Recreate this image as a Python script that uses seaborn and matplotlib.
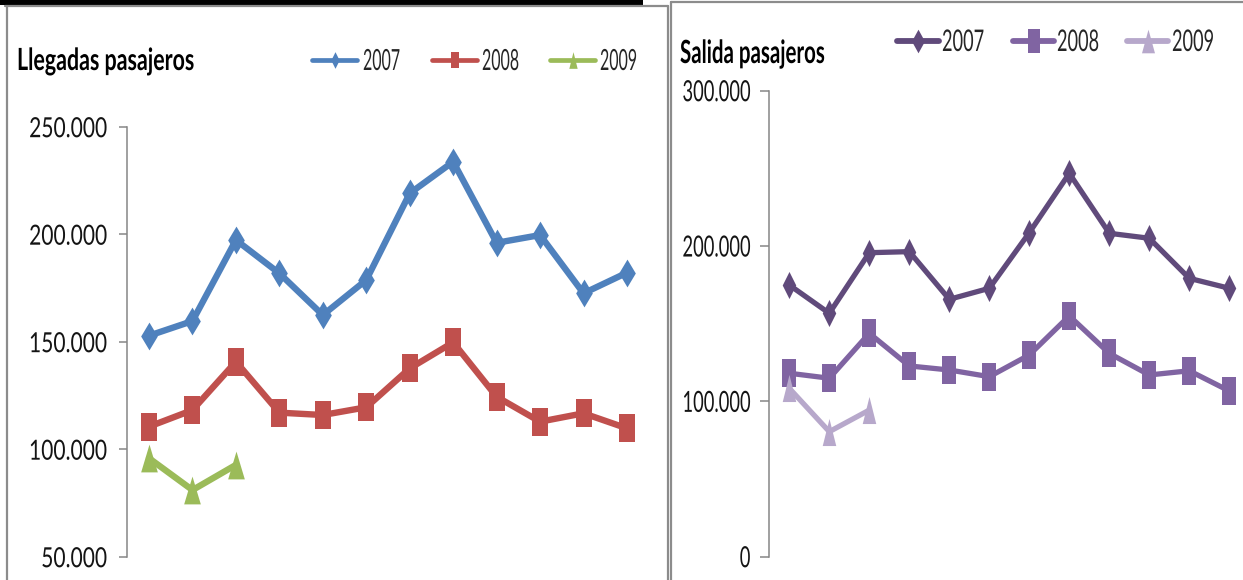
import matplotlib
matplotlib.use("Agg")
import matplotlib.pyplot as plt
from matplotlib.lines import Line2D
from matplotlib.patches import Rectangle
from matplotlib.ticker import FuncFormatter, FixedLocator
from matplotlib.patheffects import AbstractPathEffect
from matplotlib.transforms import Affine2D
import seaborn as sns
import pandas as pd

# ---------------- data ----------------
meses = ["Ene", "Feb", "Mar", "Abr", "May", "Jun", "Jul", "Ago", "Sep", "Oct", "Nov", "Dic"]
anios = ["2007", "2008", "2009"]

llegadas_2007 = [152800, 159600, 197300, 181800, 162400, 178700, 219000, 233700, 196000, 199600, 172500, 182100]
llegadas_2008 = [110500, 118200, 140700, 117000, 115900, 119500, 137600, 149700, 124400, 112800, 116700, 109700]
llegadas_2009 = [95800, 81000, 92700]

salidas_2007 = [174900, 156700, 195700, 196400, 165700, 172800, 208600, 246800, 208200, 205000, 179200, 172800]
salidas_2008 = [118100, 114900, 143800, 122800, 120200, 115900, 129900, 155000, 130900, 117000, 119700, 106700]
salidas_2009 = [108400, 80500, 94400]

ticks_llegadas = [50000, 100000, 150000, 200000, 250000]
ticks_salidas = [0, 100000, 200000, 300000]

titulo_llegadas = "Llegadas pasajeros"
titulo_salidas = "Salida pasajeros"

colores_llegadas = ["#4F81BD", "#C0504D", "#9BBB59"]
colores_salidas = ["#604A7B", "#8064A2", "#B7A8CB"]

# ---------------- style ----------------
sns.set_style("white")
plt.rcParams["font.family"] = ["Lato", "DejaVu Sans"]

W, H = 1243, 580
fig = plt.figure(figsize=(W / 100, H / 100), dpi=100)
fig.patch.set_facecolor("white")


def fx(x):
    return x / W


def fy(y):
    return 1 - y / H


def fmt(v, pos=None):
    return f"{int(round(v)):,}".replace(",", ".")


class Squeeze(AbstractPathEffect):
    """Horizontally condense rendered text (the reference uses a narrow face)."""

    def __init__(self, sx, anchor="left"):
        super().__init__()
        self.sx = sx
        self.anchor = anchor

    def draw_path(self, renderer, gc, tpath, affine, rgbFace=None):
        if len(tpath.vertices) == 0:
            renderer.draw_path(gc, tpath, affine, rgbFace)
            return
        xs = affine.transform(tpath.vertices)[:, 0]
        if self.anchor == "left":
            x0 = xs.min()
        elif self.anchor == "right":
            x0 = xs.max()
        else:
            x0 = 0.5 * (xs.min() + xs.max())
        t = affine + Affine2D().translate(-x0, 0).scale(self.sx, 1).translate(x0, 0)
        renderer.draw_path(gc, tpath, t, rgbFace)


def tall(kind, ratio):
    if kind == "D":
        return [(0, 1), (ratio, 0), (0, -1), (-ratio, 0)]
    if kind == "s":
        return [(-ratio, -1), (ratio, -1), (ratio, 1), (-ratio, 1)]
    return [(0, 1), (ratio, -1), (-ratio, -1)]


def build_df(series):
    rows = []
    for anio, vals in zip(anios, series):
        for m, v in zip(meses, vals):
            rows.append({"mes": m, "anio": anio, "valor": v})
    return pd.DataFrame(rows)


KINDS = ["D", "s", "^"]


def panel(ax, series, colors, ticks, lw, ms, ratio, fontsize, tlen, tpad):
    df = build_df(series)
    for anio, c, k in zip(anios, colors, KINDS):
        sub = df[df["anio"] == anio]
        sns.lineplot(data=sub, x="mes", y="valor", ax=ax, color=c, sort=False,
                     linewidth=lw, marker=tall(k, ratio), markersize=ms,
                     markeredgewidth=0, legend=False)
    ax.set_xlim(-0.5, len(meses) - 0.5)
    ax.set_ylim(ticks[0], ticks[-1])
    ax.yaxis.set_major_locator(FixedLocator(ticks))
    ax.yaxis.set_major_formatter(FuncFormatter(fmt))
    for s in ["top", "right", "bottom"]:
        ax.spines[s].set_visible(False)
    ax.spines["left"].set_color("#868686")
    ax.spines["left"].set_linewidth(1.1)
    ax.tick_params(axis="x", bottom=False, labelbottom=False)
    ax.tick_params(axis="y", left=True, direction="out", length=tlen, width=1.1,
                   color="#868686", pad=tpad, labelsize=fontsize, labelcolor="#141414")
    ax.set_xlabel("")
    ax.set_ylabel("")
    ax.patch.set_alpha(0)
    ax.grid(False)


# left panel
axL = fig.add_axes([fx(127.3), fy(556.7), (648.7 - 127.3) / W, 430 / H])
panel(axL, [llegadas_2007, llegadas_2008, llegadas_2009], colores_llegadas,
      ticks_llegadas, lw=4.6, ms=20, ratio=0.6, fontsize=20, tlen=5.8, tpad=8.6)

# right panel
axR = fig.add_axes([fx(769.3), fy(556.7), 480 / W, 466 / H])
panel(axR, [salidas_2007, salidas_2008, salidas_2009], colores_salidas,
      ticks_salidas, lw=3.8, ms=19.5, ratio=0.5, fontsize=21, tlen=6.2, tpad=7.2)

# titles
tL = fig.text(fx(17), fy(70), titulo_llegadas, fontsize=22, fontweight="bold",
              ha="left", va="baseline", color="black")
tR = fig.text(fx(680), fy(63), titulo_salidas, fontsize=23, fontweight="bold",
              ha="left", va="baseline", color="black")

# legends: one entry each, placed where the reference has them
squeeze_targets = []  # (text artist, target width px, anchor)


def add_legend_entry(color, kind, label, x_line0, x_line1, x_text, yc, fs, ms, ratio, lw):
    fs_px = fs * 100 / 72
    h = Line2D([0], [0], color=color, lw=lw, marker=tall(kind, ratio), markersize=ms,
               markeredgewidth=0)
    leg = fig.legend([h], [label], loc="center left",
                     bbox_to_anchor=(fx(x_line0), fy(yc)), frameon=False, fontsize=fs,
                     handlelength=(x_line1 - x_line0) / fs_px,
                     handletextpad=(x_text - x_line1) / fs_px,
                     borderpad=0, borderaxespad=0, handleheight=0.7)
    return leg.get_texts()[0]


legL_pos = [(312, 357, 363), (432, 477, 482), (550, 595, 600)]
for (a, b, c), col, k, lab in zip(legL_pos, colores_llegadas, KINDS, anios):
    t = add_legend_entry(col, k, lab, a, b, c, 62, 21, 12, 0.5, 3.4)
    squeeze_targets.append((t, 37, "left"))

legR_pos = [(897, 939, 942), (1013, 1054, 1057), (1127, 1168, 1172)]
for (a, b, c), col, k, lab in zip(legR_pos, colores_salidas, KINDS, anios):
    t = add_legend_entry(col, k, lab, a, b, c, 42, 21.5, 17, 0.55, 4.2)
    squeeze_targets.append((t, 42, "left"))

squeeze_targets.append((tL, 177, "left"))
squeeze_targets.append((tR, 145, "left"))

# panel frames
fig.add_artist(Rectangle((0, fy(4.5)), fx(643), 4.5 / H, transform=fig.transFigure,
                         color="black", lw=0))
gray = "#8C8C8C"
for (x1, y1, x2, y2) in [(5, 5.5, 668, 5.5), (6.5, 5.5, 6.5, 580), (668, 5.5, 668, 580),
                         (671, 2, 1243, 2), (671.5, 2, 671.5, 580)]:
    fig.add_artist(Line2D([fx(x1), fx(x2)], [fy(y1), fy(y2)], transform=fig.transFigure,
                          color=gray, lw=1.6))

# condense the text horizontally to match the narrow face of the reference
fig.canvas.draw()
rend = fig.canvas.get_renderer()
for t, target, anchor in squeeze_targets:
    w = t.get_window_extent(rend).width
    t.set_path_effects([Squeeze(target / w, anchor)])

for ax, widest, target in [(axL, "250.000", 78), (axR, "300.000", 68)]:
    labels = ax.get_yticklabels()
    ref = [l for l in labels if l.get_text() == widest]
    w = ref[0].get_window_extent(rend).width if ref else labels[-1].get_window_extent(rend).width
    for l in labels:
        l.set_path_effects([Squeeze(target / w, "right")])

fig.savefig("out.png", dpi=100)
